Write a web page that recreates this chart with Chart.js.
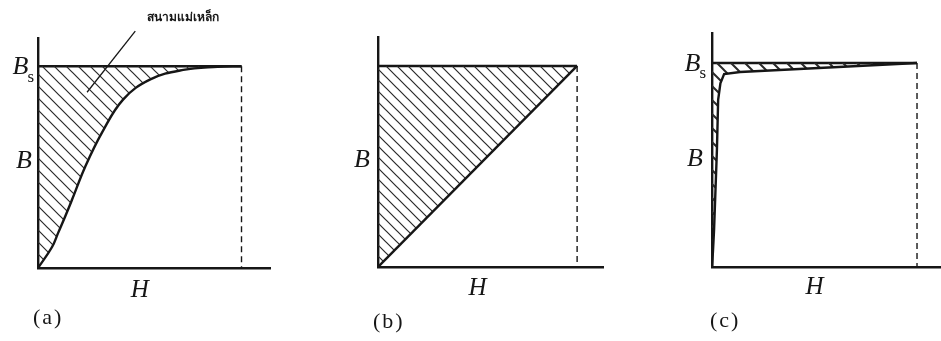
<!DOCTYPE html>
<html>
<head>
<meta charset="utf-8">
<script src="https://cdn.jsdelivr.net/npm/chart.js@4"></script>
<style>
    body { margin: 0; background: #fff; width: 941px; height: 341px; position: relative; overflow: hidden; }
    canvas { position: absolute; top: 0; }
    .note { position: absolute; left: 147px; top: 7px; font: bold 12px sans-serif; color: #161616; white-space: nowrap; }
</style>
</head>
<body>
<canvas id="panelA" width="320" height="341" style="left:0"></canvas>
<canvas id="panelB" width="320" height="341" style="left:320px"></canvas>
<canvas id="panelC" width="301" height="341" style="left:640px"></canvas>
<div class="note" id="note"></div>
<script>
/* B-H magnetisation curves, normalised so that H at saturation = 1 and Bs = 1 */

// (a) soft S-shaped curve
const hA = [0, 0.069, 0.099, 0.133, 0.167, 0.232, 0.315, 0.419, 0.552, 0.714, 0.882, 1];
const bA = [0, 0.104, 0.174, 0.254, 0.338, 0.502, 0.672, 0.836, 0.935, 0.982, 0.997, 1];
// (b) linear material
const hB = [0, 1];
const bB = [0, 1];
// (c) square-loop material
const hC = [0, 0.005, 0.01, 0.024, 0.03, 0.041, 0.059, 0.137, 1];
const bC = [0, 0.083, 0.181, 0.574, 0.819, 0.9, 0.946, 0.956, 1];

// saturation level and the dashed drop to the H axis
const satH = [0, 1];
const satB = [1, 1];
const dropH = [1, 1];
const dropB = [1, 0];

// leader line from the note into the shaded area of (a)
const leaderH = [0.478, 0.241];
const leaderB = [1.174, 0.871];

const captions = ['(a)', '(b)', '(c)'];
const noteText = 'สนามแม่เหล็ก';

const INK = '#161616';

document.getElementById('note').textContent = noteText;

function pts(xs, ys) {
    return xs.map((v, i) => ({ x: v, y: ys[i] }));
}

function hatch(gap, width) {
    const c = document.createElement('canvas');
    c.width = gap;
    c.height = gap;
    const g = c.getContext('2d');
    g.strokeStyle = '#2a2a2a';
    g.lineWidth = width;
    g.beginPath();
    g.moveTo(-1, -1); g.lineTo(gap + 1, gap + 1);
    g.moveTo(-1, gap - 1); g.lineTo(1, gap + 1);
    g.moveTo(gap - 1, -1); g.lineTo(gap + 1, 1);
    g.stroke();
    return g.createPattern(c, 'repeat');
}

// axis letters and panel captions
const panelText = {
    id: 'panelText',
    afterDatasetsDraw(chart, args, o) {
        const { ctx, scales: { x, y } } = chart;
        const x0 = x.getPixelForValue(0);
        const y0 = y.getPixelForValue(0);
        ctx.save();
        ctx.fillStyle = INK;
        ctx.textBaseline = 'middle';

        ctx.font = 'italic 26px "Liberation Serif"';
        ctx.textAlign = 'right';
        ctx.fillText('B', x0 + o.bDx, y.getPixelForValue(0.53));

        if (o.bs) {
            const yb = y.getPixelForValue(1);
            ctx.font = '17px "Liberation Serif"';
            const sx = x0 + o.bsDx;
            ctx.fillText('s', sx, yb + 11);
            const sw = ctx.measureText('s').width;
            ctx.font = 'italic 26px "Liberation Serif"';
            ctx.fillText('B', sx - sw + 1, yb + 1);
        }

        ctx.textAlign = 'center';
        ctx.font = 'italic 25px "Liberation Serif"';
        ctx.fillText('H', x.getPixelForValue(0.5), y0 + o.hDy);

        ctx.textAlign = 'left';
        ctx.font = '22px "Liberation Serif"';
        ctx.letterSpacing = '2px';
        ctx.fillText(o.caption, o.capX, o.capY);
        ctx.restore();
    }
};

function makePanel(id, h, b, cfg) {
    const datasets = [
        {
            data: pts(h, b),
            borderColor: INK,
            borderWidth: 2.4,
            backgroundColor: hatch(cfg.gap, cfg.hatchWidth),
            fill: { value: 1 },
            tension: cfg.tension,
            pointRadius: 0
        },
        {
            data: pts(satH, satB),
            borderColor: INK,
            borderWidth: 2.4,
            fill: false,
            pointRadius: 0
        },
        {
            data: pts(dropH, dropB),
            borderColor: INK,
            borderWidth: 1.4,
            borderDash: [6, 4],
            fill: false,
            pointRadius: 0
        }
    ];
    if (cfg.leader) {
        datasets.push({
            data: pts(leaderH, leaderB),
            borderColor: INK,
            borderWidth: 1.3,
            fill: false,
            pointRadius: 0,
            clip: false
        });
    }

    new Chart(document.getElementById(id), {
        type: 'line',
        data: { datasets: datasets },
        options: {
            responsive: false,
            animation: false,
            events: [],
            layout: { padding: cfg.pad },
            plugins: {
                legend: { display: false },
                tooltip: { enabled: false },
                panelText: cfg.text
            },
            scales: {
                x: {
                    type: 'linear',
                    min: 0,
                    max: cfg.xMax,
                    grid: { display: false },
                    ticks: { display: false },
                    border: { color: INK, width: 2.4 },
                    afterFit: s => { s.height = 0; }
                },
                y: {
                    type: 'linear',
                    min: 0,
                    max: cfg.yMax,
                    grid: { display: false },
                    ticks: { display: false },
                    border: { color: INK, width: 2.4 },
                    afterFit: s => { s.width = 0; }
                }
            }
        },
        plugins: [panelText]
    });
}

makePanel('panelA', hA, bA, {
    gap: 12, hatchWidth: 1.2, tension: 0.4, leader: true,
    xMax: 1.14, yMax: 1.14,
    pad: { left: 38, top: 38, right: 50, bottom: 73 },
    text: { bs: true, bDx: -6, bsDx: -4, hDy: 22, caption: captions[0], capX: 33, capY: 318 }
});

makePanel('panelB', hB, bB, {
    gap: 11, hatchWidth: 1.2, tension: 0, leader: false,
    xMax: 1.13, yMax: 1.144,
    pad: { left: 58, top: 37, right: 37, bottom: 74 },
    text: { bs: false, bDx: -8, hDy: 21, caption: captions[1], capX: 53, capY: 322 }
});

makePanel('panelC', hC, bC, {
    gap: 14, hatchWidth: 2, tension: 0, leader: false,
    xMax: 1.117, yMax: 1.147,
    pad: { left: 72, top: 33, right: 0, bottom: 74 },
    text: { bs: true, bDx: -9, bsDx: -6, hDy: 20, caption: captions[2], capX: 70, capY: 321 }
});
</script>
</body>
</html>
